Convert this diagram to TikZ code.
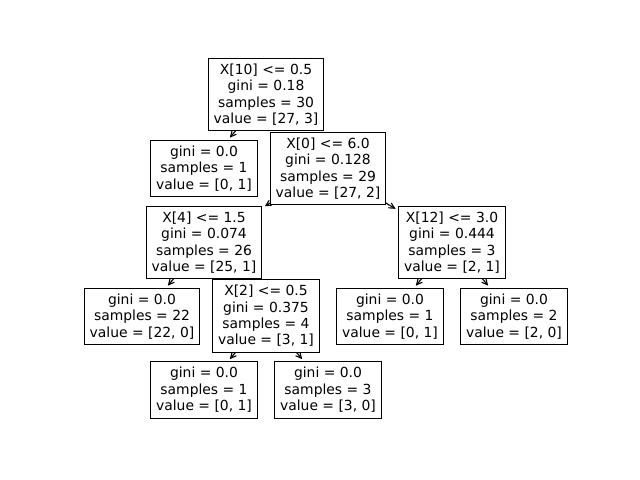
\documentclass[tikz,border=0pt]{standalone}
\usepackage{fontspec}
\setmainfont{DejaVu Sans}
\usetikzlibrary{arrows.meta,backgrounds}
\begin{document}
\begin{tikzpicture}[x=0.72pt,y=-0.72pt,
  box/.style={draw, fill=white, line width=0.8pt, align=center, inner xsep=4pt, inner ysep=4pt,
    font=\fontsize{10}{11.8}\selectfont},
  arr/.style={-{Straight Barb[length=4pt,width=4pt]}, line width=0.8pt, shorten >=2pt}]
\useasboundingbox (0,0) rectangle (640,480);
\node[box] (n0) at (266,94.5) {X[10] <= 0.5\\gini = 0.18\\samples = 30\\value = [27, 3]};
\node[box] (n1) at (204,168.5) {gini = 0.0\\samples = 1\\value = [0, 1]};
\node[box] (n2) at (328,168.5) {X[0] <= 6.0\\gini = 0.128\\samples = 29\\value = [27, 2]};
\node[box] (n3) at (204,242.5) {X[4] <= 1.5\\gini = 0.074\\samples = 26\\value = [25, 1]};
\node[box] (n4) at (452,242.5) {X[12] <= 3.0\\gini = 0.444\\samples = 3\\value = [2, 1]};
\node[box] (n5) at (142,316.5) {gini = 0.0\\samples = 22\\value = [22, 0]};
\node[box] (n6) at (266,316) {X[2] <= 0.5\\gini = 0.375\\samples = 4\\value = [3, 1]};
\node[box] (n7) at (390,316.5) {gini = 0.0\\samples = 1\\value = [0, 1]};
\node[box] (n8) at (514,316.5) {gini = 0.0\\samples = 2\\value = [2, 0]};
\node[box] (n9) at (204,390) {gini = 0.0\\samples = 1\\value = [0, 1]};
\node[box] (n10) at (328,390) {gini = 0.0\\samples = 3\\value = [3, 0]};
\begin{scope}[on background layer]
\draw[arr] (n0.center) -- (n1);
\draw[arr] (n0.center) -- (n2);
\draw[arr] (n2.center) -- (n3);
\draw[arr] (n2.center) -- (n4);
\draw[arr] (n3.center) -- (n5);
\draw[arr] (n3.center) -- (n6);
\draw[arr] (n4.center) -- (n7);
\draw[arr] (n4.center) -- (n8);
\draw[arr] (n6.center) -- (n9);
\draw[arr] (n6.center) -- (n10);
\end{scope}
\end{tikzpicture}
\end{document}
